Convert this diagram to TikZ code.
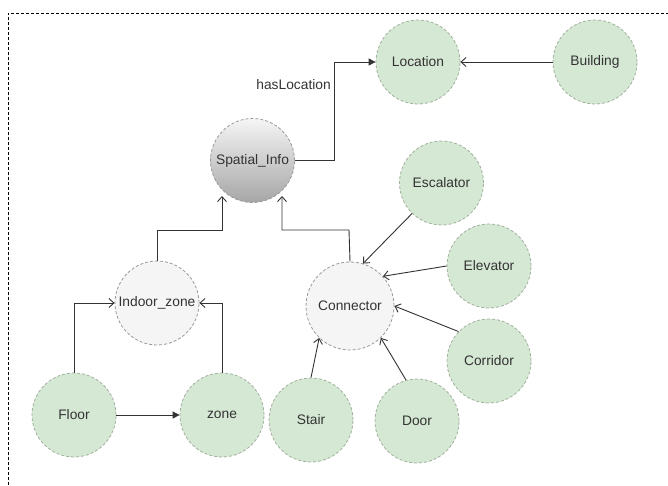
\documentclass[tikz,border=0pt]{standalone}
\usepackage{fontspec}
\setmainfont{Liberation Sans}
\usetikzlibrary{arrows.meta,shadings}
\definecolor{gfill}{HTML}{D5E8D4}
\definecolor{gline}{HTML}{A2B09E}
\definecolor{lfill}{HTML}{F5F5F5}
\definecolor{lline}{HTML}{999999}
\definecolor{txt}{HTML}{333333}
\begin{document}
\begin{tikzpicture}[x=1pt,y=-1pt,
  every node/.style={font=\fontsize{13.8}{16}\selectfont, text=txt},
  green/.style={circle, minimum size=84pt, inner sep=0pt, fill=gfill, draw=gline, dashed, dash pattern=on 3pt off 2pt, line width=0.8pt},
  light/.style={circle, minimum size=84pt, inner sep=0pt, fill=lfill, draw=lline, dashed, dash pattern=on 3pt off 2pt, line width=0.8pt},
  gray/.style={circle, minimum size=84pt, inner sep=0pt, top color=lfill, bottom color=black!35, draw=lline, dashed, dash pattern=on 3pt off 2pt, line width=0.8pt},
  openarr/.style={-{Straight Barb[length=5pt,width=9pt]}, line width=0.9pt, draw=black!80},
  fillarr/.style={-{Triangle[length=7pt,width=7pt]}, line width=0.9pt, draw=black!80}
]
\useasboundingbox (0,0) rectangle (668,485);
\draw[dashed, dash pattern=on 3pt off 2pt, line width=0.6pt] (8,485) -- (8,13) -- (668,13);

\node[green] (loc) at (418,62) {Location};
\node[green] (bld) at (595,62) {Building};
\node[gray] (sp) at (252.5,160.5) {Spatial\_Info};
\node[light] (ind) at (157,303) {Indoor\_zone};
\node[light, minimum size=88pt] (con) at (350,306) {Connector};
\node[green] (flo) at (74,415) {Floor};
\node[green] (zon) at (222,415) {zone};
\node[green] (sta) at (311,420) {Stair};
\node[green] (doo) at (417,421) {Door};
\node[green] (esc) at (441.5,183) {Escalator};
\node[green] (ele) at (489,266) {Elevator};
\node[green] (cor) at (489,361) {Corridor};

\coordinate (h1) at (334,160.5);
\coordinate (h2) at (334,62);
\draw[fillarr] (sp.east) -- (h1) -- (h2) -- (loc.west);
\node[anchor=east, inner sep=0pt] (hl) at (331,85) {hasLocation};
\draw[openarr] (bld.west) -- (loc.east);

\coordinate (c1) at (349,230);
\coordinate (c2) at (282,230);
\draw[openarr] (con.north) -- (c1) -- (c2) -- (282,196);
\coordinate (i1) at (157,230);
\coordinate (i2) at (222,230);
\draw[openarr] (ind.north) -- (i1) -- (i2) -- (222,196);

\coordinate (f1) at (74,303);
\draw[openarr] (flo.north) -- (f1) -- (ind.west);
\coordinate (z1) at (222,303);
\draw[openarr] (zon.north) -- (z1) -- (ind.east);
\draw[fillarr] (flo.east) -- (zon.west);

\draw[openarr] (esc.226) -- (con.73);
\draw[openarr] (ele.west) -- (con.42);
\draw[openarr] (cor.136) -- (con.east);
\draw[openarr] (sta.north) -- (con.226);
\draw[openarr] (doo.105) -- (con.314);
\end{tikzpicture}
\end{document}
